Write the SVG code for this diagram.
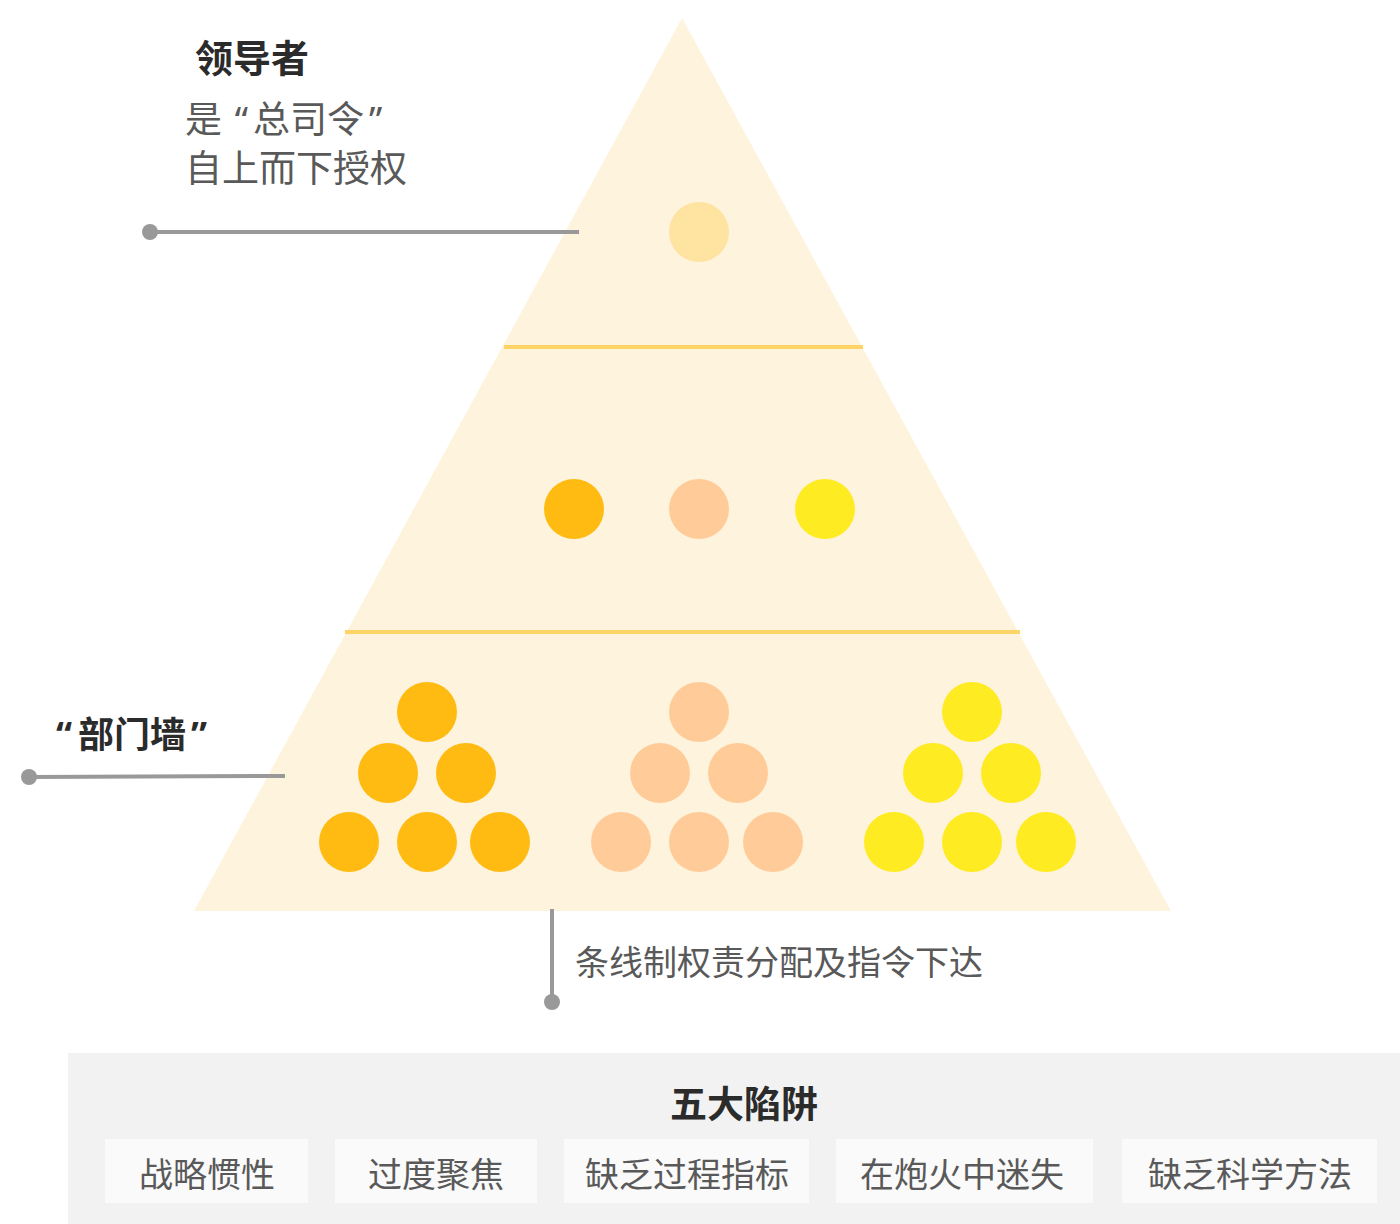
<svg xmlns="http://www.w3.org/2000/svg" width="1400" height="1224" viewBox="0 0 1400 1224">
<style>
.t{font-family:"Noto Sans","Noto Sans CJK SC",sans-serif}
.h{font-weight:bold;fill:#2b2b2b}
.d{fill:#595959}
.sep{stroke:#FFD466;stroke-width:4}
.conn{stroke:#999;stroke-width:4;fill:none}
.dot{fill:#999}
.box{fill:#FAFAFA}
.c1{fill:#FFBB11}
.c2{fill:#FFCC99}
.c3{fill:#FFEB22}
</style>
<rect width="1400" height="1224" fill="#fff"/>
<g id="pyramid">
<polygon points="682,18 194,911 1171,911" fill="#FEF3DC"/>
<line class="sep" x1="504" y1="347" x2="863" y2="347"/>
<line class="sep" x1="345" y1="632" x2="1020" y2="632"/>
</g>
<g id="leader-circle"><circle cx="699" cy="232" r="30" fill="#FFE3A1"/></g>
<g id="middle-circles">
<circle class="c1" cx="574" cy="509" r="30"/>
<circle class="c2" cx="699" cy="509" r="30"/>
<circle class="c3" cx="825" cy="509" r="30"/>
</g>
<g id="group-left">
<circle class="c1" cx="427" cy="712" r="30"/>
<circle class="c1" cx="388" cy="773" r="30"/>
<circle class="c1" cx="466" cy="773" r="30"/>
<circle class="c1" cx="349" cy="842" r="30"/>
<circle class="c1" cx="427" cy="842" r="30"/>
<circle class="c1" cx="500" cy="842" r="30"/>
</g>
<g id="group-middle">
<circle class="c2" cx="699" cy="712" r="30"/>
<circle class="c2" cx="660" cy="773" r="30"/>
<circle class="c2" cx="738" cy="773" r="30"/>
<circle class="c2" cx="621" cy="842" r="30"/>
<circle class="c2" cx="699" cy="842" r="30"/>
<circle class="c2" cx="773" cy="842" r="30"/>
</g>
<g id="group-right">
<circle class="c3" cx="972" cy="712" r="30"/>
<circle class="c3" cx="933" cy="773" r="30"/>
<circle class="c3" cx="1011" cy="773" r="30"/>
<circle class="c3" cx="894" cy="842" r="30"/>
<circle class="c3" cx="972" cy="842" r="30"/>
<circle class="c3" cx="1046" cy="842" r="30"/>
</g>
<g id="connectors">
<line class="conn" x1="150" y1="232" x2="579" y2="232"/>
<circle class="dot" cx="150" cy="232" r="8"/>
<line class="conn" x1="29" y1="777" x2="285" y2="776"/>
<circle class="dot" cx="29" cy="777" r="8"/>
<line class="conn" x1="552" y1="909" x2="552" y2="1002"/>
<circle class="dot" cx="552" cy="1002" r="8"/>
</g>
<g id="label-leader">
<text class="t h" x="195" y="72" font-size="38">领导者</text>
<text class="t d" x="185" y="133" font-size="37">是 <tspan dx="3">“</tspan><tspan dx="5">总司令</tspan><tspan dx="5">”</tspan></text>
<text class="t d" x="185" y="182" font-size="37">自上而下授权</text>
</g>
<g id="label-wall"><text class="t h" x="56" y="748" font-size="36">“<tspan dx="6">部门墙</tspan><tspan dx="5">”</tspan></text></g>
<g id="label-line"><text class="t d" x="575" y="975" font-size="34">条线制权责分配及指令下达</text></g>
<g id="traps">
<rect x="68" y="1053" width="1332" height="171" fill="#F2F2F2"/>
<text class="t h" x="744" y="1118" font-size="37" text-anchor="middle">五大陷阱</text>
<rect class="box" x="105" y="1139" width="203" height="64"/>
<rect class="box" x="335" y="1139" width="202" height="64"/>
<rect class="box" x="564" y="1139" width="245" height="64"/>
<rect class="box" x="836" y="1139" width="257" height="64"/>
<rect class="box" x="1122" y="1139" width="255" height="64"/>
<text class="t d" x="207" y="1187" font-size="34" text-anchor="middle">战略惯性</text>
<text class="t d" x="436" y="1187" font-size="34" text-anchor="middle">过度聚焦</text>
<text class="t d" x="687" y="1187" font-size="34" text-anchor="middle">缺乏过程指标</text>
<text class="t d" x="962" y="1187" font-size="34" text-anchor="middle">在炮火中迷失</text>
<text class="t d" x="1250" y="1187" font-size="34" text-anchor="middle">缺乏科学方法</text>
</g>
</svg>
